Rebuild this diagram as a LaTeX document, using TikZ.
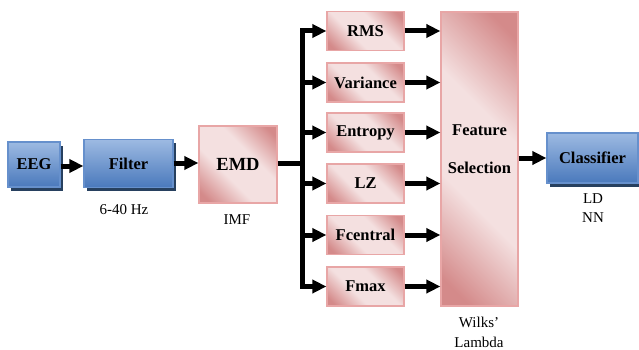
\documentclass[tikz,border=0pt]{standalone}
\usepackage{fontspec}
\setmainfont{Liberation Serif}
\usetikzlibrary{arrows.meta,shadows}
\definecolor{blueT}{HTML}{9DBAE2}
\definecolor{blueB}{HTML}{4A79BC}
\definecolor{blueE}{HTML}{6690CC}
\definecolor{blueS}{HTML}{27405F}
\definecolor{pinkL}{HTML}{F4E0E0}
\definecolor{pinkD}{HTML}{D48A8A}
\definecolor{pinkE}{HTML}{E8A6A6}
\pgfdeclarehorizontalshading{pinkband}{100bp}{color(0bp)=(pinkD); color(20bp)=(pinkD); color(40bp)=(pinkL); color(60bp)=(pinkL); color(80bp)=(pinkD); color(100bp)=(pinkD)}
\tikzset{
  bluebox/.style={draw=blueE, line width=1.2pt, top color=blueT, bottom color=blueB,
    drop shadow={shadow xshift=2.5pt, shadow yshift=-3.5pt, fill=blueS, opacity=1},
    inner sep=0pt, font=\fontsize{16.5}{18}\selectfont\bfseries},
  pinkbox/.style={draw=pinkE, line width=1.2pt, shade, shading=pinkband, shading angle=45,
    inner sep=0pt, font=\fontsize{16.5}{18}\selectfont\bfseries},
  lbl/.style={inner sep=0pt, font=\fontsize{15}{17}\selectfont},
  btxt/.style={inner sep=0pt, font=\fontsize{16.5}{18}\selectfont\bfseries},
  arr/.style={line width=5pt, -{Triangle[length=14pt,width=13pt]}},
  thk/.style={line width=5pt},
}
\begin{document}
\begin{tikzpicture}[x=1pt,y=-1pt]
\useasboundingbox (0,0) rectangle (639,350);
% blue boxes
\node[bluebox, minimum width=52pt, minimum height=45pt] (EEG) at (34,164.5) {EEG};
\node[bluebox, minimum width=89pt, minimum height=48pt] (Filter) at (128.5,163.5) {Filter};
\node[bluebox, minimum width=91pt, minimum height=50pt] (Cls) at (592.5,158) {Classifier};
% EMD
\node[pinkbox, minimum width=78pt, minimum height=77pt, font=\fontsize{18.5}{20}\selectfont\bfseries] (EMD) at (238,164.5) {EMD};
% features
\node[pinkbox, minimum width=77pt, minimum height=39pt] (RMS) at (365.5,31) {RMS};
\node[pinkbox, minimum width=77pt, minimum height=39pt] (Var) at (365.5,82.5) {Variance};
\node[pinkbox, minimum width=77pt, minimum height=39pt] (Ent) at (365.5,132.5) {Entropy};
\node[pinkbox, minimum width=77pt, minimum height=39pt] (LZ) at (365.5,183.5) {LZ};
\node[pinkbox, minimum width=77pt, minimum height=39pt] (Fc) at (365.5,235) {Fcentral};
\node[pinkbox, minimum width=77pt, minimum height=39pt] (Fm) at (365.5,286.5) {Fmax};
% feature selection
\node[pinkbox, minimum width=77pt, minimum height=294pt] (FS) at (479.5,159) {};
\node[btxt] (FS1) at (479.5,130) {Feature};
\node[btxt] (FS2) at (479.5,168) {Selection};
% labels
\node[lbl] (hz) at (124,209.5) {6-40 Hz};
\node[lbl] (imf) at (237,219.5) {IMF};
\node[lbl] (ld) at (593,199) {LD};
\node[lbl] (nn) at (593,217.5) {NN};
\node[lbl] (wl) at (479,322) {Wilks'};
\node[lbl] (lam) at (479,342.5) {Lambda};
% connectors
\coordinate (bt) at (302,31);
\coordinate (bb) at (302,286.5);
\draw[arr] (EEG.east |- 0,166) -- (Filter.west |- 0,166);
\draw[arr] (Filter.east |- 0,163) -- (EMD.west |- 0,163);
\draw[thk] (EMD.east |- 0,163) -- (bt |- 0,163);
\draw[thk, line cap=rect] (bt) -- (bb);
\foreach \n in {RMS,Var,Ent,LZ,Fc,Fm}{
  \draw[arr] (bt |- \n.west) -- (\n.west);
  \draw[arr] (\n.east) -- (\n.east -| FS.west);
}
\draw[arr] (FS.east |- Cls.west) -- (Cls.west);
\end{tikzpicture}
\end{document}
